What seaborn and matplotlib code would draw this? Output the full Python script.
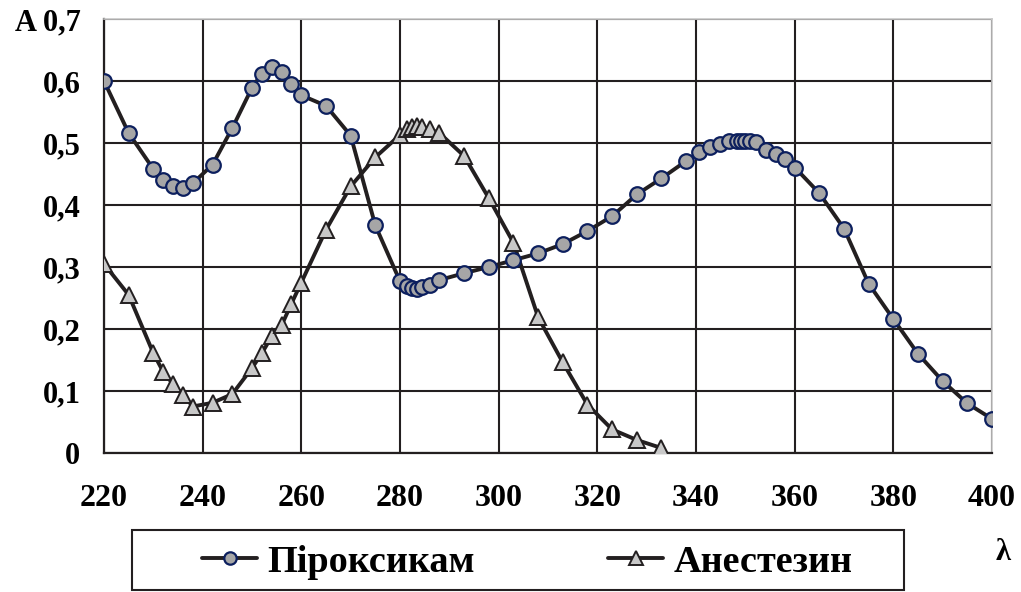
import numpy as np
import pandas as pd
import matplotlib
matplotlib.use("Agg")
import matplotlib.pyplot as plt
import matplotlib.patches as mpatches
import seaborn as sns

# wavelength (nm) and absorbance
wl_pirox = [220, 225, 230, 232, 234, 236, 238, 242, 246, 250, 252, 254, 256, 258, 260,
            265, 270, 275, 280, 281.4, 282.4, 283.4, 284.4, 286, 288, 293, 298, 303, 308,
            313, 318, 323, 328, 333, 338, 340.7, 342.9, 344.9, 346.7, 348.3, 349.1, 350,
            350.9, 352.1, 354.1, 356.2, 358.1, 360.1, 365, 370, 375, 380, 385, 390, 395, 400]
a_pirox = [0.600, 0.516, 0.458, 0.440, 0.430, 0.427, 0.435, 0.465, 0.524, 0.589, 0.612,
           0.622, 0.614, 0.595, 0.577, 0.560, 0.512, 0.367, 0.277, 0.270, 0.266, 0.265,
           0.268, 0.271, 0.279, 0.290, 0.300, 0.311, 0.322, 0.337, 0.358, 0.382, 0.417,
           0.443, 0.471, 0.486, 0.493, 0.499, 0.503, 0.504, 0.504, 0.504, 0.504, 0.502,
           0.489, 0.483, 0.475, 0.460, 0.419, 0.362, 0.273, 0.216, 0.160, 0.116, 0.080, 0.055]

wl_anest = [220, 225, 230, 232, 234, 236, 238, 242, 246, 250, 252, 254, 256, 258, 260,
            265, 270, 275, 280, 281.4, 282.4, 283.4, 284.4, 286, 288, 293, 298, 303, 308,
            313, 318, 323, 328, 333]
a_anest = [0.305, 0.255, 0.161, 0.131, 0.111, 0.094, 0.075, 0.081, 0.095, 0.137, 0.161,
           0.188, 0.206, 0.241, 0.275, 0.360, 0.430, 0.477, 0.513, 0.522, 0.526, 0.527,
           0.526, 0.522, 0.516, 0.479, 0.411, 0.339, 0.219, 0.146, 0.078, 0.038, 0.021, 0.008]

x_ticks = [220, 240, 260, 280, 300, 320, 340, 360, 380, 400]
y_ticks = [0, 0.1, 0.2, 0.3, 0.4, 0.5, 0.6, 0.7]
y_labels = ["0", "0,1", "0,2", "0,3", "0,4", "0,5", "0,6", "A 0,7"]

df_p = pd.DataFrame({"wl": wl_pirox, "A": a_pirox})
df_a = pd.DataFrame({"wl": wl_anest, "A": a_anest})

sns.set_style("white")
plt.rcParams["font.family"] = ["Liberation Serif", "DejaVu Serif"]
plt.rcParams["font.weight"] = "bold"
plt.rcParams["text.color"] = "black"

ink = "#231f20"
fig = plt.figure(figsize=(10.21, 5.92), dpi=100)
ax = fig.add_axes([104 / 1021, 1 - 453 / 592, 888 / 1021, 434 / 592])

sns.lineplot(data=df_a, x="wl", y="A", ax=ax, color=ink, lw=2.8, marker="^",
             markersize=12, markerfacecolor="#c8c8c8", markeredgecolor=ink,
             markeredgewidth=1.4, label="Анестезин", zorder=3)
sns.lineplot(data=df_p, x="wl", y="A", ax=ax, color=ink, lw=2.8, marker="o",
             markersize=10.5, markerfacecolor="#a6a6a6", markeredgecolor="#0c1f5e",
             markeredgewidth=1.6, label="Піроксикам", zorder=4)

ax.set_xlim(220, 400)
ax.set_ylim(0, 0.7)
ax.set_xticks(x_ticks)
ax.set_yticks(y_ticks)
ax.set_yticklabels(y_labels)
ax.set_xlabel("")
ax.set_ylabel("")
ax.grid(True, color=ink, lw=1.5)
ax.set_axisbelow(True)
for s in ["top", "right"]:
    ax.spines[s].set_color("#c8c8c8")
    ax.spines[s].set_linewidth(1.2)
for s in ["left", "bottom"]:
    ax.spines[s].set_color(ink)
    ax.spines[s].set_linewidth(1.6)
ax.tick_params(axis="both", direction="out", length=7, width=1.6, color=ink,
               labelcolor="black")
ax.tick_params(axis="x", pad=15, labelsize=23)
ax.tick_params(axis="y", pad=10, labelsize=22)
for lab in ax.get_xticklabels() + ax.get_yticklabels():
    lab.set_fontweight("bold")

# legend entries without frame, box drawn separately below the plot
handles, labels = ax.get_legend_handles_labels()
order = [labels.index("Піроксикам"), labels.index("Анестезин")]
leg = ax.legend([handles[i] for i in order], [labels[i] for i in order], ncol=2,
                loc="center left", bbox_to_anchor=(202 / 1021, 1 - 562 / 592),
                bbox_transform=fig.transFigure, frameon=False,
                handlelength=1.44, handletextpad=0.26, columnspacing=3.5,
                borderpad=0, borderaxespad=0, markerscale=0.85,
                prop={"family": "Liberation Serif", "weight": "bold", "size": 27.5})
for t in leg.get_texts():
    t.set_color("black")
fig.patches.append(mpatches.Rectangle((132 / 1021, 2 / 592), 772 / 1021, 60 / 592,
                                      transform=fig.transFigure, fill=False,
                                      edgecolor=ink, lw=1.5))

fig.text(1003 / 1021, 1 - 553 / 592, "λ", fontsize=22, ha="center", va="center",
         family=["Liberation Serif", "DejaVu Serif"], fontweight="bold", color="black")

fig.savefig("out.png", dpi=100)
